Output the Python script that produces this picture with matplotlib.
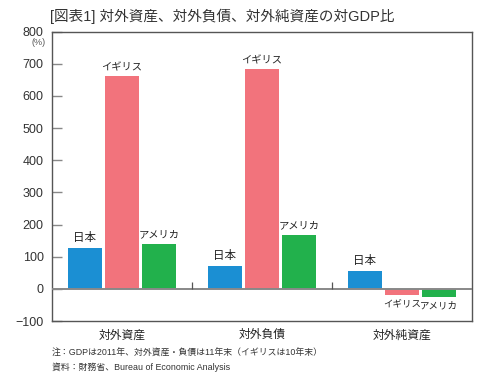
import matplotlib.pyplot as plt
import numpy as np

plt.rcParams['font.family'] = ['Liberation Sans', 'Noto Sans CJK JP']

# data (% of GDP)
categories = ['対外資産', '対外負債', '対外純資産']
countries = ['日本', 'イギリス', 'アメリカ']
japan = [127, 72, 56]
uk = [662, 684, -19]
usa = [141, 169, -26]
colors = ['#1b8fd3', '#f2737c', '#22b14c']

fig = plt.figure(figsize=(5, 3.77), dpi=100)
ax = fig.add_axes([0.104, 0.1485, 0.84, 0.7675])

x = np.arange(len(categories))
width = 0.245
offset = 0.265

for i, (vals, name) in enumerate(zip([japan, uk, usa], countries)):
    pos = x + (i - 1) * offset
    ax.bar(pos, vals, width, color=colors[i], zorder=2)
    for p, v in zip(pos, vals):
        if v >= 0:
            fs = 8.3 if name == '日本' else 7.4
            ax.text(p, v + 12, name, ha='center', va='bottom', fontsize=fs,
                    color='#222222')
        else:
            # narrower labels under the small negative bars
            ax.text(p, v - 14, name, ha='center', va='top', fontsize=6.8,
                    color='#222222')

# zero line and group separators
ax.axhline(0, color='#888888', lw=1.4, zorder=3)
ax.vlines([0.5, 1.5], 0, 22, color='#555555', lw=0.9, zorder=3)

ax.set_xlim(-0.5, 2.5)
ax.set_ylim(-100, 800)
ax.set_yticks(range(-100, 801, 100))
ax.tick_params(axis='y', direction='in', length=7, width=1, color='#888888',
               labelsize=9, labelcolor='#333333', pad=6)
ax.set_xticks(x)
ax.set_xticklabels(categories, fontsize=8.5, color='#222222')
ax.tick_params(axis='x', length=0, pad=6)

for s in ax.spines.values():
    s.set_color('#555555')
    s.set_linewidth(1.0)

fig.text(0.063, 0.88, '(%)', fontsize=6.5, color='#555555')
fig.text(0.1, 0.945, '[図表1] 対外資産、対外負債、対外純資産の対GDP比', fontsize=10.5,
         color='#333333')
fig.text(0.104, 0.055, '注：GDPは2011年、対外資産・負債は11年末（イギリスは10年末）',
         fontsize=6.4, color='#333333')
fig.text(0.104, 0.018, '資料：財務省、Bureau of Economic Analysis', fontsize=6.4,
         color='#333333')

fig.savefig('out.png', dpi=100)
